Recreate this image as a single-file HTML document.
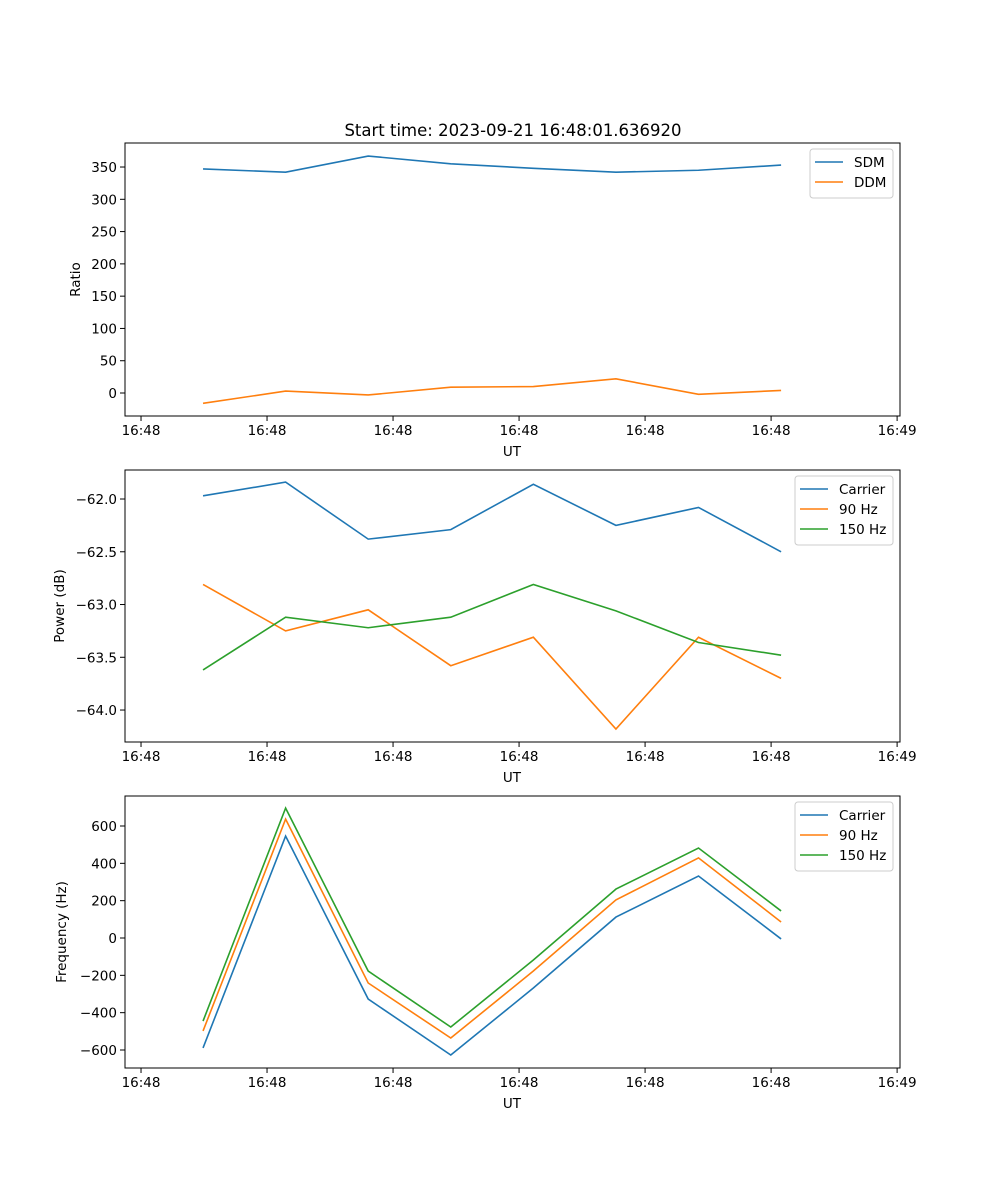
<!DOCTYPE html>
<html><head><meta charset="utf-8"><style>
body{margin:0;background:#fff}
svg{display:block;font-family:"DejaVu Sans","Liberation Sans",sans-serif}
</style></head><body>
<svg id="fig" width="1000" height="1200" xmlns="http://www.w3.org/2000/svg">
<rect width="1000" height="1200" fill="#fff"/>
<text x="513" y="136" font-size="16.5" text-anchor="middle">Start time: 2023-09-21 16:48:01.636920</text>
</svg>
<script>
const xTickVals = [-0.751, 0.775, 2.301, 3.827, 5.353, 6.879, 8.405];
const xTickLabels = ["16:48","16:48","16:48","16:48","16:48","16:48","16:49"];
const sdm = [347, 342, 367, 355, 348, 342, 345, 353];
const ddm = [-16, 3, -3, 9, 10, 22, -2, 4];
const pwrCarrier = [-61.97, -61.84, -62.38, -62.29, -61.86, -62.25, -62.08, -62.50];
const pwr90 = [-62.81, -63.25, -63.05, -63.58, -63.31, -64.18, -63.31, -63.70];
const pwr150 = [-63.62, -63.12, -63.22, -63.12, -62.81, -63.06, -63.36, -63.48];
const frqCarrier = [-589, 546, -327, -627, -268, 112, 332, -5];
const frq90 = [-498, 637, -241, -536, -177, 204, 429, 86];
const frq150 = [-445, 696, -177, -477, -118, 262, 482, 145];
const ratioTicks = [0,50,100,150,200,250,300,350];
const powerTicks = [-64.0,-63.5,-63.0,-62.5,-62.0];
const freqTicks = [-600,-400,-200,0,200,400,600];

const NS="http://www.w3.org/2000/svg";
const svg=document.getElementById('fig');
function el(tag,attrs,parent){const e=document.createElementNS(NS,tag);for(const k in attrs)e.setAttribute(k,attrs[k]);(parent||svg).appendChild(e);return e;}
const L=125,R=900,X0=-0.945,X1=8.44;
const xs=v=>L+(v-X0)/(X1-X0)*(R-L);
const C=["#1f77b4","#ff7f0e","#2ca02c"];

function panel(name,top,bot,y0,y1,ticks,fmt,ylabel,ylx,series,names,leg){
  const ys=v=>bot-(v-y0)/(y1-y0)*(bot-top);
  const g=el('g',{});
  
  
  series.forEach((s,si)=>{
    const p=el('polyline',{points:s.map((v,i)=>xs(i)+','+ys(v)).join(' '),fill:'none',stroke:C[si],'stroke-width':1.6},g);
    
    
  });
  el('rect',{x:L,y:top,width:R-L,height:bot-top,fill:'none',stroke:'#000','stroke-width':1},g);
  xTickVals.forEach((v,i)=>{
    const x=xs(v);
    el('line',{x1:x,x2:x,y1:bot,y2:bot+5,stroke:'#000','stroke-width':1},g);
    const t=el('text',{x:x,y:bot+19,'font-size':13.5,'text-anchor':'middle'},g);
    t.textContent=xTickLabels[i];
    
    
  });
  ticks.forEach(v=>{
    const y=ys(v);
    el('line',{x1:L-5,x2:L,y1:y,y2:y,stroke:'#000','stroke-width':1},g);
    const t=el('text',{x:L-8,y:y+5,'font-size':13.5,'text-anchor':'end'},g);
    t.textContent=fmt(v);
    
    
  });
  const xl=el('text',{x:512,y:bot+40,'font-size':13.5,'text-anchor':'middle'},g);
  xl.textContent='UT';
  
  
  const yc=(top+bot)/2;
  const yl=el('text',{x:ylx,y:yc,'font-size':13.5,'text-anchor':'middle',transform:`rotate(-90 ${ylx} ${yc})`},g);
  yl.textContent=ylabel;
  
  
  const lg=el('g',{},g);
  
  
  el('rect',{x:leg[0],y:top+6,width:leg[1],height:names.length*20+9,rx:3,fill:'#fff','fill-opacity':0.8,stroke:'#ccc'},lg);
  names.forEach((n,i)=>{
    const y=top+19+i*20;
    el('line',{x1:leg[0]+5,x2:leg[0]+33,y1:y,y2:y,stroke:C[i],'stroke-width':1.6},lg);
    const t=el('text',{x:leg[0]+44,y:y+5,'font-size':13.5},lg);
    t.textContent=n;
    
    
  });
}
panel('ratio',143,416,-35.6,387.2,ratioTicks,v=>v<0?'\u2212'+(-v):String(v),'Ratio',80,[sdm,ddm],['SDM','DDM'],[810,83]);
panel('power',470,742,-64.303,-61.725,powerTicks,v=>(v<0?'\u2212':'')+Math.abs(v).toFixed(1),'Power (dB)',64,[pwrCarrier,pwr90,pwr150],['Carrier','90 Hz','150 Hz'],[795,98]);
panel('frequency',796,1068,-696.4,760.7,freqTicks,v=>v<0?'\u2212'+(-v):String(v),'Frequency (Hz)',66,[frqCarrier,frq90,frq150],['Carrier','90 Hz','150 Hz'],[795,98]);
</script>
</body></html>
